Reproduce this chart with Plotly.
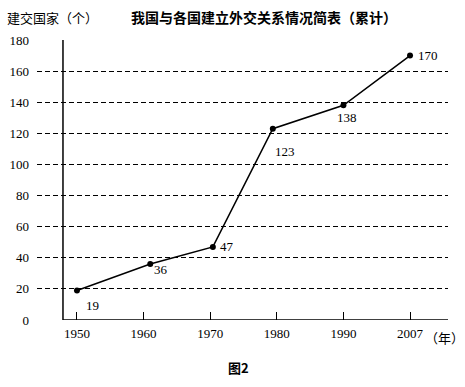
import numpy as np
import plotly.graph_objects as go

# ---- data ----
tick_years = [1950, 1960, 1970, 1980, 1990, 2007]
tick_labels = ["1950", "1960", "1970", "1980", "1990", "2007"]
point_years = [1950, 1961, 1970.4, 1979.4, 1990, 2007]
countries = [19, 36, 47, 123, 138, 170]
y_ticks = [0, 20, 40, 60, 80, 100, 120, 140, 160, 180]

title_text = "我国与各国建立外交关系情况简表（累计）"
y_title = "建交国家（个）"
x_unit = "（年）"
caption = "图2"

# positions on an evenly spaced category-like axis
tick_pos = list(range(len(tick_years)))
point_pos = np.interp(point_years, tick_years, tick_pos)

CJK = "Noto Sans CJK SC"
NUM = "Liberation Serif"

fig = go.Figure()
fig.add_trace(go.Scatter(
    x=point_pos, y=countries, mode="lines+markers",
    line=dict(color="black", width=1.5),
    marker=dict(color="black", size=6),
    hoverinfo="skip", showlegend=False,
))

# data labels (offsets in pixels)
shifts = [(16, -15), (11, -5), (14, 0), (12, -23), (4, -12), (18, 0)]
for xp, v, (dx, dy) in zip(point_pos, countries, shifts):
    fig.add_annotation(x=xp, y=v, text=str(v), showarrow=False,
                       xshift=dx, yshift=dy,
                       font=dict(family=NUM, size=13, color="black"))

xmin, xmax = -0.6, 5.57
yaxis_x = -0.21

fig.update_layout(
    width=465, height=387,
    margin=dict(l=37, r=17, t=40, b=67),
    paper_bgcolor="white", plot_bgcolor="white",
    xaxis=dict(
        range=[xmin, xmax], tickvals=tick_pos, ticktext=tick_labels,
        showgrid=False, zeroline=False, showline=False, automargin=False,
        ticks="inside", ticklen=8, tickcolor="black", tickwidth=1,
        tickfont=dict(family=NUM, size=13, color="black"),
        ticklabelstandoff=4,
    ),
    yaxis=dict(
        range=[0, 180], tickvals=y_ticks, automargin=False,
        showgrid=True, gridcolor="black", gridwidth=1, griddash="5px,3px",
        zeroline=False, showline=False, ticks="",
        tickfont=dict(family=NUM, size=13, color="black"),
        ticklabelstandoff=7,
    ),
    shapes=[
        dict(type="line", xref="x", yref="y", x0=yaxis_x, x1=yaxis_x, y0=0, y1=180,
             line=dict(color="black", width=1.5)),
        dict(type="line", xref="x", yref="y", x0=yaxis_x, x1=xmax, y0=0, y1=0,
             line=dict(color="black", width=1.5)),
    ],
)

fig.add_annotation(xref="paper", yref="paper", x=-32/411, y=1 + 23/280,
                   xanchor="left", yanchor="middle", showarrow=False,
                   text=y_title, font=dict(family=CJK, size=13, color="black"))
fig.add_annotation(xref="paper", yref="paper", x=(264 - 37) / 411, y=1 + 23/280,
                   xanchor="center", yanchor="middle", showarrow=False,
                   text="<b>" + title_text + "</b>",
                   font=dict(family=CJK, size=14, color="black"))
fig.add_annotation(xref="paper", yref="paper", x=(423 - 37) / 411, y=-17/280,
                   xanchor="left", yanchor="middle", showarrow=False,
                   text=x_unit, font=dict(family=CJK, size=13, color="black"))
fig.add_annotation(xref="paper", yref="paper", x=(238 - 37) / 411, y=-47/280,
                   xanchor="center", yanchor="middle", showarrow=False,
                   text="<b>" + caption + "</b>",
                   font=dict(family=CJK, size=13, color="black"))

fig.write_html("out.html", config={"displayModeBar": False},
               post_script="document.body.style.margin='0';document.body.style.overflow='hidden';")
